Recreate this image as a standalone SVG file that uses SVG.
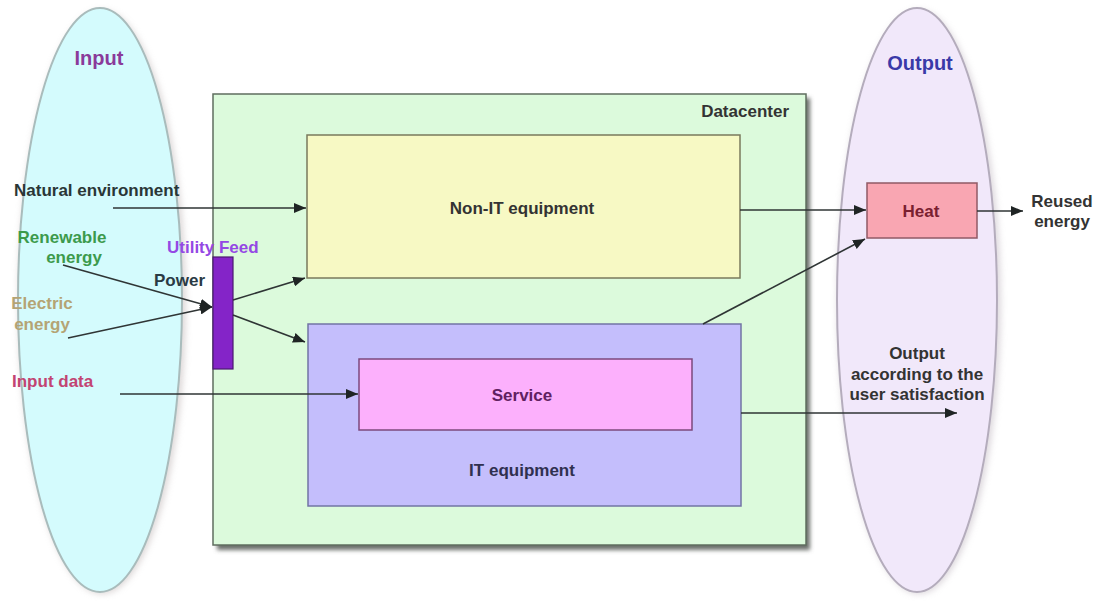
<svg xmlns="http://www.w3.org/2000/svg" width="1098" height="601" viewBox="0 0 1098 601">
  <style>
    text { font-family: "Liberation Sans", Arial, sans-serif; font-weight: bold; font-size: 17px; }
    .mid { text-anchor: middle; }
    .title { font-size: 20px; }
    .conn { stroke: #2f3535; stroke-width: 1.6; fill: none; marker-end: url(#arrow); }
    .box { stroke-width: 1.5; }
  </style>
  <defs>
    <marker id="arrow" viewBox="0 0 12 10" refX="12" refY="5" markerWidth="12" markerHeight="10" markerUnits="userSpaceOnUse" orient="auto">
      <path d="M0,0 L12,5 L0,10 z" fill="#1f2424"/>
    </marker>
    <filter id="soft" x="-20%" y="-20%" width="140%" height="140%">
      <feGaussianBlur stdDeviation="3"/>
    </filter>
    <filter id="drop" x="-10%" y="-10%" width="125%" height="125%">
      <feGaussianBlur stdDeviation="2"/>
    </filter>
  </defs>

  <rect width="1098" height="601" fill="#ffffff"/>

  <!-- Input ellipse -->
  <g id="input">
    <ellipse cx="102" cy="302" rx="84" ry="292" fill="#c8c0c0" opacity="0.6" filter="url(#soft)"/>
    <ellipse cx="100" cy="300" rx="82" ry="292" fill="#d4fbfd" stroke="#a9bcbc" stroke-width="2"/>
    <text class="mid title" x="99" y="65" fill="#8a3a9a">Input</text>
    <text x="14" y="196" fill="#2a3636">Natural environment</text>
    <text class="mid" x="62" y="243" fill="#3c9a4c">Renewable</text>
    <text class="mid" x="74" y="263" fill="#3c9a4c">energy</text>
    <text class="mid" x="42" y="309" fill="#b4a474">Electric</text>
    <text class="mid" x="42" y="330" fill="#b4a474">energy</text>
    <text x="12" y="387" fill="#c24472">Input data</text>
  </g>

  <!-- Output ellipse -->
  <g id="output">
    <ellipse cx="919" cy="302" rx="82" ry="292" fill="#c8c0c8" opacity="0.6" filter="url(#soft)"/>
    <ellipse cx="917" cy="300" rx="80" ry="292" fill="#f1e8fa" stroke="#b4acbc" stroke-width="2"/>
    <text class="mid title" x="920" y="70" fill="#3a3aa8">Output</text>
    <text class="mid" x="917" y="359" fill="#333">Output</text>
    <text class="mid" x="917" y="380" fill="#333">according to the</text>
    <text class="mid" x="917" y="400" fill="#333">user satisfaction</text>
  </g>

  <!-- Datacenter -->
  <g id="datacenter">
    <rect x="217" y="98" width="593" height="452" fill="#6a6e6a" filter="url(#drop)"/>
    <rect class="box" x="213" y="94" width="593" height="451" fill="#dcfadc" stroke="#5f6e5f"/>
    <text x="789" y="117" text-anchor="end" fill="#333">Datacenter</text>
  </g>

  <g id="non-it">
    <rect class="box" x="307" y="135" width="433" height="143" fill="#f7f9c4" stroke="#7a7a5c"/>
    <text class="mid" x="522" y="214" fill="#333">Non-IT equipment</text>
  </g>

  <g id="it">
    <rect class="box" x="308" y="324" width="433" height="182" fill="#c4befc" stroke="#7274a4"/>
    <text class="mid" x="522" y="476" fill="#303050">IT equipment</text>
  </g>

  <g id="service">
    <rect class="box" x="359" y="359" width="333" height="71" fill="#fcb0fc" stroke="#7c4a7c"/>
    <text class="mid" x="522" y="401" fill="#602060">Service</text>
  </g>

  <g id="utility-feed">
    <rect x="213" y="257" width="20" height="112" fill="#8424c8" stroke="#4a1a70" stroke-width="1.2"/>
    <text x="167" y="253" fill="#9448e4">Utility Feed</text>
    <text x="154" y="286" fill="#2a3a44">Power</text>
  </g>

  <g id="heat">
    <rect class="box" x="867" y="183" width="110" height="55" fill="#f9a6b2" stroke="#905a66"/>
    <text class="mid" x="921" y="217" fill="#7a2030">Heat</text>
    <text class="mid" x="1062" y="207" fill="#333">Reused</text>
    <text class="mid" x="1062" y="227" fill="#333">energy</text>
  </g>

  <!-- connectors -->
  <g id="connectors">
    <line class="conn" x1="113" y1="208" x2="306" y2="208"/>
    <line class="conn" x1="63" y1="265" x2="212" y2="307"/>
    <line class="conn" x1="68" y1="338" x2="212" y2="307"/>
    <line class="conn" x1="233" y1="300" x2="305" y2="278"/>
    <line class="conn" x1="233" y1="315" x2="305" y2="342"/>
    <line class="conn" x1="120" y1="394" x2="358" y2="394"/>
    <line class="conn" x1="740" y1="210" x2="866" y2="210"/>
    <line class="conn" x1="703" y1="324" x2="865" y2="239"/>
    <line class="conn" x1="977" y1="211" x2="1023" y2="211"/>
    <line class="conn" x1="741" y1="413" x2="957" y2="413"/>
  </g>
</svg>
